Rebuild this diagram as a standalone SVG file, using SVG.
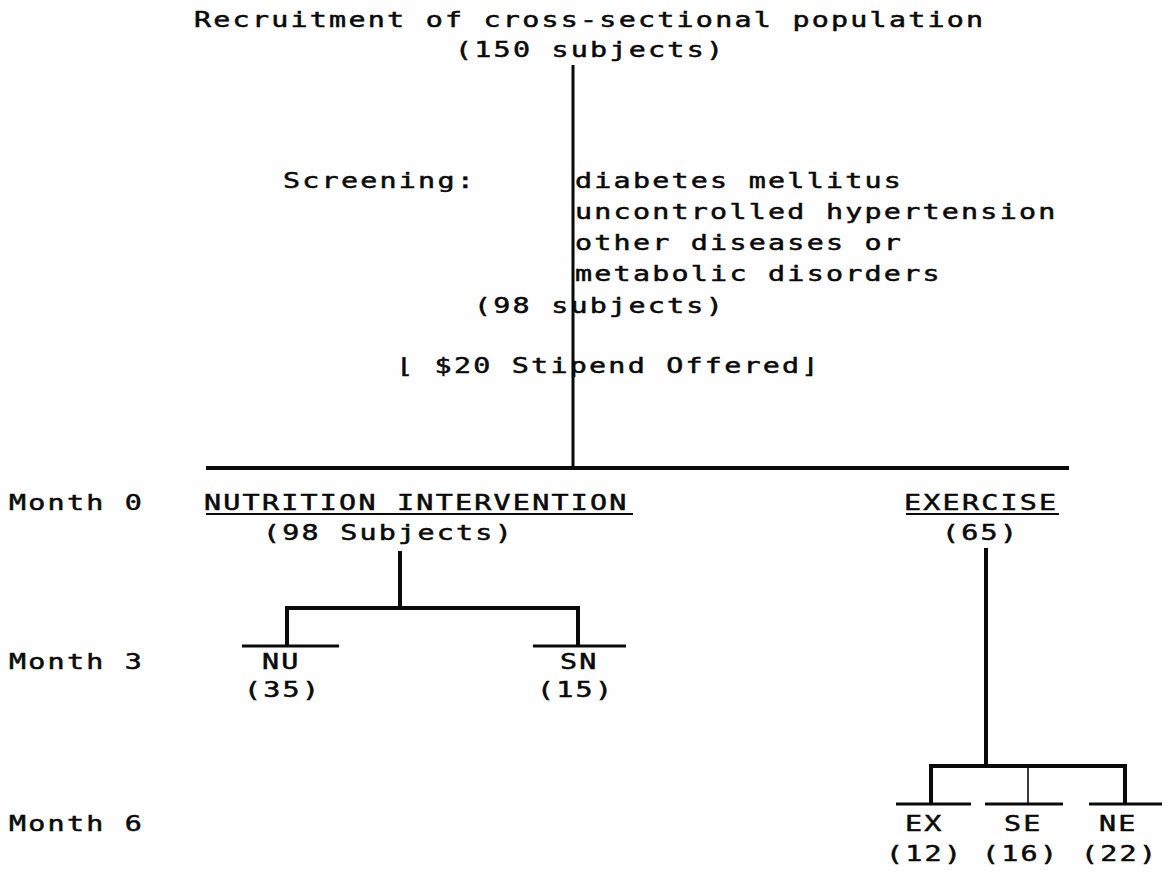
<svg xmlns="http://www.w3.org/2000/svg" width="1168" height="873" viewBox="0 0 1168 873">
<style>
text{font-family:"DejaVu Sans Mono","Liberation Mono",monospace;font-size:21px;letter-spacing:1.66px;fill:#0a0a0a;stroke:#0a0a0a;stroke-width:0.5px}
.ln{stroke:#0a0a0a;fill:none;stroke-linecap:butt}
.ul{stroke:#0a0a0a;stroke-width:2}
</style>
<rect width="1168" height="873" fill="#fefefe"/>
<g id="connectors">
<line class="ln" x1="573" y1="65" x2="573" y2="468" stroke-width="3"/>
<line class="ln" x1="206" y1="468" x2="1069" y2="468" stroke-width="4"/>
<line class="ln" x1="400" y1="551" x2="400" y2="608" stroke-width="4"/>
<polyline class="ln" points="287,646 287,608 578,608 578,646" stroke-width="4"/>
<line class="ln" x1="242" y1="646" x2="339" y2="646" stroke-width="3"/>
<line class="ln" x1="533" y1="646" x2="626" y2="646" stroke-width="3"/>
<line class="ln" x1="986" y1="548" x2="986" y2="766" stroke-width="4"/>
<polyline class="ln" points="931,804 931,766 1125,766 1125,804" stroke-width="4"/>
<line class="ln" x1="1028" y1="766" x2="1028" y2="804" stroke-width="1.6"/>
<line class="ln" x1="896" y1="804" x2="971" y2="804" stroke-width="3"/>
<line class="ln" x1="985" y1="804" x2="1063" y2="804" stroke-width="3"/>
<line class="ln" x1="1089" y1="804" x2="1162" y2="804" stroke-width="3"/>
</g>
<g id="recruitment">
<text transform="translate(194 27) scale(1.35 1)">Recruitment of cross-sectional population</text>
<text transform="translate(455 57) scale(1.35 1)">(150 subjects)</text>
</g>
<g id="screening">
<text transform="translate(283 188) scale(1.35 1)">Screening:</text>
<text transform="translate(575 188) scale(1.35 1)">diabetes mellitus</text>
<text transform="translate(575 219) scale(1.35 1)">uncontrolled hypertension</text>
<text transform="translate(575 250) scale(1.35 1)">other diseases or</text>
<text transform="translate(575 281) scale(1.35 1)">metabolic disorders</text>
<text transform="translate(474 313) scale(1.35 1)">(98 subjects)</text>
</g>
<g id="stipend">
<text transform="translate(396 373) scale(1.35 1)">⌊ $20 Stipend Offered⌋</text>
</g>
<g id="month-labels">
<text transform="translate(9 510) scale(1.35 1)">Month 0</text>
<text transform="translate(9 669) scale(1.35 1)">Month 3</text>
<text transform="translate(9 831) scale(1.35 1)">Month 6</text>
</g>
<g id="nutrition">
<text transform="translate(204 510) scale(1.35 1)">NUTRITION INTERVENTION</text>
<line class="ul" x1="206" y1="514" x2="633" y2="514"/>
<text transform="translate(263 540) scale(1.35 1)">(98 Subjects)</text>
</g>
<g id="exercise">
<text transform="translate(904 510) scale(1.35 1)">EXERCISE</text>
<line class="ul" x1="906" y1="514" x2="1059" y2="514"/>
<text transform="translate(942 540) scale(1.35 1)">(65)</text>
</g>
<g id="nu">
<text transform="translate(262 669) scale(1.35 1)">NU</text>
<text transform="translate(244 697) scale(1.35 1)">(35)</text>
</g>
<g id="sn">
<text transform="translate(560 669) scale(1.35 1)">SN</text>
<text transform="translate(537 697) scale(1.35 1)">(15)</text>
</g>
<g id="ex">
<text transform="translate(905 831) scale(1.35 1)">EX</text>
<text transform="translate(886 861) scale(1.35 1)">(12)</text>
</g>
<g id="se">
<text transform="translate(1004 831) scale(1.35 1)">SE</text>
<text transform="translate(982 861) scale(1.35 1)">(16)</text>
</g>
<g id="ne">
<text transform="translate(1099 831) scale(1.35 1)">NE</text>
<text transform="translate(1081 861) scale(1.35 1)">(22)</text>
</g>
</svg>
